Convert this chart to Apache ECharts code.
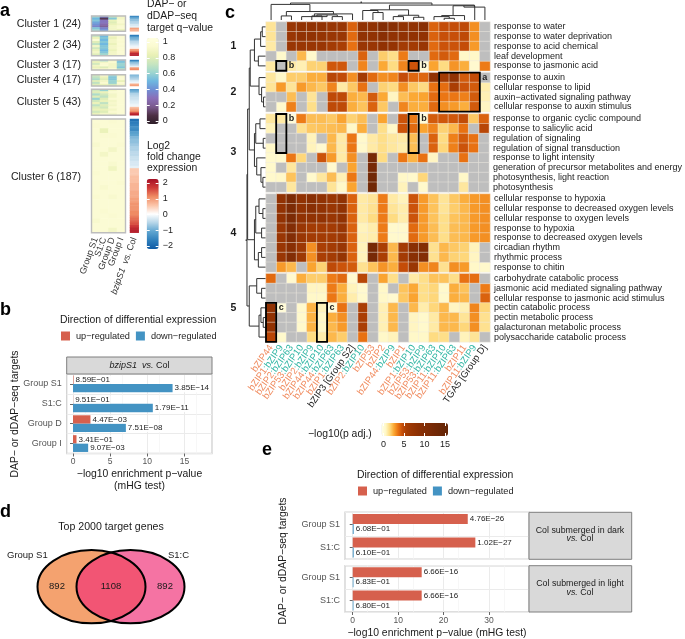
<!DOCTYPE html>
<html><head><meta charset="utf-8">
<style>html,body{margin:0;padding:0;background:#fff}#c{width:685px;height:639px}</style>
<script src="https://cdn.jsdelivr.net/npm/echarts@6/dist/echarts.min.js"></script>
</head><body><div id="c"></div>
<script>
// ---------- DATA ----------
const NA = -1;
// panel a: clusters
const clusterNames = ['Cluster 1 (24)','Cluster 2 (34)','Cluster 3 (17)','Cluster 4 (17)','Cluster 5 (43)','Cluster 6 (187)'];
const aColumns = ['Group S1','S1:C','Group D','Group I'];
const aSideColumn = ['bzipS1 vs. Col'];
const cluster1Q = [[.6,.35,.7,.9],[.5,.08,.55,.9],[.55,.3,.85,.95],[.45,.3,.8,.95],[.4,.25,.85,.9],[.35,.2,.9,.95],[.55,.35,.9,.95],[.6,.4,.9,.85]];
const cluster2Q = [[.7,.5,.9,.97],[.85,.55,.85,.95],[.97,.5,.9,.97],[.8,.55,.9,.95],[.7,.5,.85,.97],[.9,.55,.9,.95],[.75,.55,.9,.97],[.85,.5,.85,.95],[.9,.55,.9,.97],[.8,.62,.9,.95]];
const cluster3Q = [[.8,.6,.9,.5],[.85,.9,.95,.55],[.75,.95,.9,.6],[.9,.97,.9,.6],[.85,.8,.9,.55],[.9,.9,.95,.65]];
const cluster4Q = [[.75,.95,.6,.9],[.7,.85,.55,.95],[.65,.8,.55,.95],[.8,.9,.6,.85],[.7,.95,.6,.95],[.8,.85,.75,.9]];
const cluster5Q = [[.75,.6,.9,.97],[.8,.85,.95,.97],[.65,.75,.9,.97],[.8,.7,.9,.97],[.6,.8,.95,.97],[.75,.85,.9,.97],[.85,.7,.92,.97],[.7,.8,.9,.97],[.8,.75,.95,.97],[.85,.85,.9,.97],[.75,.8,.95,.97],[.85,.9,.9,.97]];
const cluster6Q = [[.97,.97,.95,.97],[.95,.97,.97,.97],[.97,.85,.97,.97],[.97,.95,.95,.97],[.97,.97,.97,.97],[.93,.97,.97,.95],[.97,.97,.9,.97],[.97,.9,.97,.97],[.97,.97,.97,.97],[.97,.97,.93,.97],[.97,.97,.88,.97],[.95,.97,.97,.97],[.97,.97,.97,.97],[.97,.97,.97,.95],[.97,.93,.97,.97],[.97,.97,.97,.97],[.95,.97,.93,.97],[.97,.97,.97,.97],[.97,.97,.97,.97],[.97,.95,.97,.97],[.97,.97,.95,.97],[.93,.97,.97,.97],[.97,.97,.97,.97],[.97,.97,.9,.97]];
const cluster1FC = [-1.5,-1,-.8,-.6,-.5,-.3,-.2,.9,.7];
const cluster2FC = [-1.7,-1.4,-1,-.9,-.7,-.5,-.4,-.3,-.2,-.1,.2,.9,1.1,1.5,1.9,2];
const cluster3FC = [-1.6,-1.1,-.8,-.6,-.4,-.2,.9,1.1];
const cluster4FC = [-.9,-.8,-.7,-.6,-.5,-.3,-.2,-.1,.7,.9];
const cluster5FC = [-1.3,-1,-.8,-.6,-.5,-.45,-.4,-.35,-.3,-.25,-.2,-.15,-.1,.6,.8,.9,1.1,1.7,2];
const cluster6FC = [-1.9,-1.7,-1.6,-1.4,-1.5,-1.2,-1.1,-.9,-.8,-.8,-.7,-.6,-.6,-.5,-.5,-.4,-.4,-.3,-.3,-.2,.5,.5,.5,.6,.6,.6,.7,.7,.7,.8,.8,.8,.9,.9,1,1,1,1.1,1.1,1.2,1.3,1.4,1.5,1.7,1.9,2];
// panel b
const bCategories = ['Group S1','S1:C','Group D','Group I'];
const bUp = [0.07,0.02,2.35,0.47];
const bDown = [13.41,10.75,7.12,2.04];
const bUpLabels = ['8.59E−01','9.51E−01','4.47E−03','3.41E−01'];
const bDownLabels = ['3.85E−14','1.79E−11','7.51E−08','9.07E−03'];
// panel c
const cColumns = ['bZIP44','bZIP1:bZIP9','bZIP2:bZIP63','bZIP53:bZIP10','bZIP2:bZIP9','bZIP44:bZIP10','bZIP44:bZIP63','bZIP1:bZIP63','bZIP3 [Group S2]','bZIP2:bZIP10','bZIP53','bZIP2','bZIP44:bZIP9','bZIP1','bZIP1:bZIP10','bZIP53:bZIP9','bZIP53:bZIP63','bZIP11:bZIP10','bZIP11:bZIP63','bZIP11','bZIP11:bZIP9','TGA5 [Group D]'];
const group1Terms = ['response to water','response to water deprivation','response to acid chemical','leaf development','response to jasmonic acid'];
const group2Terms = ['response to auxin','cellular response to lipid','auxin−activated signaling pathway','cellular response to auxin stimulus'];
const group3Terms = ['response to organic cyclic compound','response to salicylic acid','regulation of signaling','regulation of signal transduction','response to light intensity','generation of precursor metabolites and energy','photosynthesis, light reaction','photosynthesis'];
const group4Terms = ['cellular response to hypoxia','cellular response to decreased oxygen levels','cellular response to oxygen levels','response to hypoxia','response to decreased oxygen levels','circadian rhythm','rhythmic process','response to chitin'];
const group5Terms = ['carbohydrate catabolic process','jasmonic acid mediated signaling pathway','cellular response to jasmonic acid stimulus','pectin catabolic process','pectin metabolic process','galacturonan metabolic process','polysaccharide catabolic process'];
const group1Values = [
[1.2,NA,7,8,8,8,7,7,4,8,8,10,9,8,8,9,4,4.6,4.6,4.8,3,NA],
[1.2,NA,7,8,8,7.5,7,7,3.8,8,8,9,8,8,8,8,4,4.5,4.5,4.8,3,NA],
[1,NA,7,7,7,7,6,5.5,3.6,7,7,8,7.5,6,6,7,3.8,4.4,4.4,4.6,2.8,NA],
[NA,.4,NA,2.2,.4,NA,NA,NA,NA,4,NA,1.8,1.4,3.4,NA,NA,3.8,4.2,3.8,.5,.5,NA],
[1,NA,1,.8,1.7,1.7,4.3,4.3,NA,3.2,NA,2.5,1.5,3.2,4.4,.01,2.6,1.5,2.9,2.4,.3,3.4]];
const group2Values = [
[1.1,.5,1.8,1.8,2.4,2.4,5,4.7,3,6,3.8,3,3.2,4.6,3.9,3.9,8,6,8,4.2,4.6,NA],
[1.2,2.8,1.2,2.8,2.2,1.9,3.2,1,1.9,3.6,NA,1.7,1.5,3,1.9,1.5,3.6,3.7,5.5,4.4,4.2,.9],
[NA,NA,2.1,NA,1.2,NA,4.8,4.8,2.4,2.2,4.2,2.5,.6,2.1,2.5,2.6,3.8,3.5,3.5,3.3,4.2,.8],
[NA,.4,3.3,NA,1.4,NA,4.8,4.8,2.4,2,4,1.9,NA,3.2,2.4,2.4,3.8,3,2.8,2.4,4.2,.6]];
const group3Values = [
[1.1,1,.01,3.4,2.1,2.1,1.9,2.6,1.7,2.1,NA,2.6,NA,4.4,3.4,.01,4.2,4.3,4.3,4.7,1.9,4],
[.7,NA,NA,1.3,1.9,2,2.1,2.2,.5,2.4,NA,1.4,.5,4.4,3.8,2.6,3.2,1.7,2.2,3.6,NA,5],
[NA,NA,NA,NA,.7,NA,2.2,1,3.5,.4,1,1.4,1.1,1,2.1,NA,4,1.5,3.3,4.2,3.6,NA],
[.5,NA,NA,NA,.7,.3,2.2,1,3.5,.4,1,1.4,1.1,.9,2.1,NA,4,1.6,3.3,4.4,3.6,NA],
[.4,.4,3.5,1.6,NA,4.4,2.8,1,3,NA,12,1.5,NA,3.5,2.3,3.6,.6,NA,NA,3.6,NA,NA],
[.4,NA,1.1,NA,NA,NA,.3,NA,2.6,NA,12,NA,NA,NA,NA,NA,NA,NA,NA,NA,NA,NA],
[.4,.5,2,NA,.4,1.1,2.1,.8,3.5,NA,13,NA,NA,.5,.4,1.6,NA,NA,NA,.5,NA,NA],
[NA,NA,1.1,NA,NA,NA,1.2,.5,2.6,NA,13,NA,NA,.7,NA,.4,NA,NA,NA,1.1,NA,NA]];
const group4Values = [
[NA,8,11,8,9,8,7,8,4,1,1.2,3.4,1,.7,4.4,2.8,2,1.2,1.9,2.4,2.8,3],
[NA,8,11,8,9,8,7,8,4,1,1.3,3.4,1.2,.9,4.4,2.8,2,1.2,1.8,2.2,2.8,3],
[NA,8,11,8,8,8,7,8,4,1,1.5,3.4,1.5,.9,4.4,2.8,2,1.4,2,2.2,2.8,3],
[NA,7,10,7,6,6,6,7,4,.7,.9,3.4,.4,.4,3.8,2.8,2.1,1.4,2.1,2.2,2.8,3],
[NA,7,10,7,6,6,6,6.5,4,.8,.9,3.4,.4,.4,3.8,2.8,2.1,1.4,2.1,2.2,2.8,3],
[NA,7,9,6.5,3,5.5,6,7,4,.7,12,5.5,2.2,6,9,10,1.3,2.2,1.9,1.7,.7,NA],
[NA,7,10,6.5,3,5.5,6,7.5,4,.7,12,5.5,2.2,6,9,10,1.3,2.2,1.7,1.6,.6,NA],
[NA,2.8,2.2,NA,2.6,1.7,4.8,4.4,4.2,1.3,2,2.9,2.4,4.6,7,3,3.2,1.3,3,2.8,.5,.4]];
const group5Values = [
[3.8,NA,.3,2.4,1.8,1.8,3.4,3.8,.3,5,NA,2.6,1.4,NA,1,1.4,2,2,1.4,3.6,3.7,NA],
[NA,NA,NA,NA,.6,.6,3.4,2.4,.7,.3,NA,.5,NA,2,2.5,1.4,1.6,.4,2.4,2,NA,3.4],
[NA,NA,NA,NA,.5,.5,3.5,2.4,.9,.4,NA,.5,.3,1.9,2.6,1.4,1.6,.4,2.4,2.2,NA,4],
[8,.01,NA,.4,2.3,.7,.01,3.6,NA,5.5,NA,.8,2.2,NA,2.2,.9,1.6,2.2,.6,.8,3.2,1.6],
[8,NA,NA,.4,2.3,.5,2.4,3,NA,5.5,NA,.8,2.2,NA,.6,.4,1,2.2,2.2,1.2,3,1.3],
[8,NA,NA,.4,2.3,.5,2.2,2.8,NA,5.5,NA,.8,2.2,NA,.6,.4,1,2.2,2.2,1.6,3,1.3],
[5,.4,NA,NA,1.5,.9,2.2,1.8,NA,3.6,NA,.5,.7,NA,.5,.5,1.5,1.4,NA,.7,1.2,NA]];
// dendrograms: merges reference leaves (1..n) or earlier merges ('m'+index); last number = height
const topMerges = [[2,3,12],[5,6,12],[7,8,10],['m1','m2',15],[4,'m3',10],['m4',9,18],['m0','m5',25],[1,'m6',46],
 [11,12,22],[10,'m8',28],[13,14,10],[15,16,8],['m10','m11',14],['m9','m12',30],[18,19,5],[17,'m14',10],['m15',20,13],['m16',21,42],['m17',22,38],['m13','m18',44],['m7','m19',50]];
const leftMerges = [[1,2,10],['m0',3,15],[4,5,22],['m1','m2',34],
 [8,9,6],[7,'m4',12],[6,'m5',20],['m3','m6',47],
 [10,11,17],[12,13,7],['m8','m9',30],[16,17,8],[15,'m11',14],[14,'m12',27],['m10','m13',34],['m7','m14',50],
 [19,20,8],[18,'m16',20],[21,22,12],[23,24,12],['m19',25,22],['m17','m18',30],['m21','m20',34],['m15','m22',55],
 [27,28,12],[26,'m24',27],[30,31,7],[29,'m26',14],['m27',32,20],['m25','m28',50],['m23','m29',57]];
const boxes = [[2,2,5,5,'b'],[15,15,5,5,'b'],[18,21,6,9,'a'],[2,2,10,13,'b'],[15,15,10,13,'b'],[1,1,29,32,'c'],[6,6,29,32,'c']];
const clusterNums = ['1','2','3','4','5'];
// panel d
const vennSets = ['Group S1','S1:C'];
const vennCounts = [892,1108,892];
// panel e
const eCategories = ['Group S1','S1:C'];
const eDarkUp = [25.32,26.99], eDarkDown = [0.216,0.215];
const eLightUp = [15.18,15.18], eLightDown = [0.166,0.167];
const eDarkUpLabels = ['4.76E−26','1.02E−27'], eDarkDownLabels = ['6.08E−01','6.10E−01'];
const eLightUpLabels = ['6.66E−16','6.66E−16'], eLightDownLabels = ['6.83E−01','6.80E−01'];

// ---------- BUILD ----------
const FONT = '"Liberation Sans", Arial, sans-serif';
const RED = '#D6604D', BLUE = '#4393C3', UP = 'up−regulated', DOWN = 'down−regulated';
const grid = [], xAxis = [], yAxis = [], series = [], graphic = [];
function addGrid(r, x, y){ grid.push(Object.assign({containLabel:false},r)); const i = grid.length-1;
  xAxis.push(Object.assign({gridIndex:i},x)); yAxis.push(Object.assign({gridIndex:i},y)); return i; }
function T(x,y,text,o={}){ graphic.push({type:'text',x,y,rotation:o.rotation||0,z:20,silent:true,
  style:{text,textAlign:o.align||'left',textVerticalAlign:'middle',font:`${o.style||''} ${o.weight||'normal'} ${o.size||9}px ${FONT}`,fill:o.fill||'#1a1a1a',rich:o.rich,lineHeight:o.lineHeight}}); }
function R(x,y,w,h,fill,stroke,lw){ graphic.push({type:'rect',x,y,shape:{width:w,height:h},silent:true,z:15,style:{fill:fill||'none',stroke,lineWidth:lw||1}}); }
const idx = a => a.map((_,i)=>i);
function heat(g, matrix, keep){ const d=[]; matrix.forEach((row,r)=>row.forEach((v,c)=>{ if(keep(v)) d.push([c,r,v]); }));
  return {type:'heatmap',xAxisIndex:g,yAxisIndex:g,data:d,progressive:0,emphasis:{disabled:true}}; }
const all=()=>true;

// panel a heatmaps
const aTops = [16,35,60,74.7,89.3,119], aBottoms=[31.3,55.7,70,86,115.3,232.7];
const qMats = [cluster1Q,cluster2Q,cluster3Q,cluster4Q,cluster5Q,cluster6Q];
const fcVecs = [cluster1FC,cluster2FC,cluster3FC,cluster4FC,cluster5FC,cluster6FC];
const qSeries=[], fcSeries=[];
qMats.forEach((m,i)=>{
  const top=aTops[i],h=aBottoms[i]-aTops[i];
  const last=i===5;
  let g=addGrid({left:91.5,top,width:34,height:h},
    {type:'category',data:aColumns,axisLine:{show:false},axisTick:{show:false},axisLabel:{show:last,interval:0,rotate:70,fontSize:9,color:'#333',fontFamily:FONT,margin:5,hideOverlap:false}},
    {type:'category',data:idx(m),inverse:true,show:false});
  qSeries.push(series.length); series.push(heat(g,m,all));
  R(91.5,top,34,h,null,'#bdbdbd',1.4);
  g=addGrid({left:130,top,width:8.7,height:h},
    {type:'category',data:aSideColumn,axisLine:{show:false},axisTick:{show:false},axisLabel:{show:last,interval:0,rotate:70,fontSize:9,color:'#333',fontFamily:FONT,margin:5,hideOverlap:false,formatter:()=>'{i|bzipS1  vs.} {n|Col}',rich:{i:{fontStyle:'italic',fontSize:9,color:'#333',fontFamily:FONT},n:{fontSize:9,color:'#333',fontFamily:FONT}}}},
    {type:'category',data:idx(fcVecs[i]),inverse:true,show:false});
  fcSeries.push(series.length); series.push(heat(g,fcVecs[i].map(v=>[v]),all));
  T(81,top+h/2+(i===5?1:0),clusterNames[i],{align:'right',size:10.6,fill:'#222'});
});
T(147,4,'DAP− or',{size:10.4}); T(147,16,'dDAP−seq',{size:10.4}); T(147,28,'target q−value',{size:10.4});
T(147,146,'Log2',{size:10.4}); T(147,157,'fold change',{size:10.4}); T(147,168,'expression',{size:10.4});

function colorbarAxisGrid(r,min,max,interval,vertical,dash){
  const val={type:'value',min,max,interval,z:6,axisLine:{show:false},axisTick:{show:false},
    axisLabel:{show:true,fontSize:9,color:'#222',fontFamily:FONT,margin:4,showMinLabel:true,showMaxLabel:true,formatter:v=>String(v).replace('-','−')},
    splitLine:{show:true,lineStyle:{color:'#fff',width:1,type:dash}}};
  const cat={type:'category',show:false,data:['']};
  return vertical? addGrid(r,cat,Object.assign(val,{position:'right'})) : addGrid(r,Object.assign(val,{position:'bottom'}),cat);
}
colorbarAxisGrid({left:146.7,top:42,width:12,height:79},0,1,.2,true,[3,6]);
colorbarAxisGrid({left:146.7,top:183,width:12,height:63},-2,2,1,true,[3,6]);

// panel b
function barGrid(r,cats,up,down,upL,downL,xo,bw,showX){
  const g=addGrid(Object.assign({show:true,borderColor:'#d4d4d4',borderWidth:1.4,backgroundColor:'#fff'},r),
    Object.assign({type:'value',axisLine:{show:false},axisTick:{show:showX,length:3,lineStyle:{color:'#666'},customValues:xo.values},
      axisLabel:{show:showX,fontSize:8.5,color:'#555',fontFamily:FONT,margin:4,showMinLabel:true,showMaxLabel:true,customValues:xo.values},
      splitLine:{show:true,lineStyle:{color:'#ebebeb',width:1}},minorTick:{show:false,splitNumber:2},minorSplitLine:{show:true,lineStyle:{color:'#f3f3f3',width:.7}}},xo),
    {type:'category',data:cats,inverse:true,axisLine:{show:false},axisTick:{show:true,alignWithLabel:true,length:3,lineStyle:{color:'#666'}},
      axisLabel:{fontSize:9,color:'#555',fontFamily:FONT,margin:5,interval:0},splitLine:{show:true,lineStyle:{color:'#ebebeb'}}});
  const mk=(name,vals,col,labs)=>({type:'bar',name,xAxisIndex:g,yAxisIndex:g,data:vals,barWidth:bw,barGap:'0%',silent:true,
    itemStyle:{color:col},label:{show:true,position:'right',distance:1,fontSize:8,color:'#222',fontFamily:FONT,backgroundColor:'rgba(255,255,255,.9)',padding:[0,1],formatter:p=>labs[p.dataIndex]}});
  series.push(mk(UP,up,RED,upL),mk(DOWN,down,BLUE,downL));
}
barGrid({left:66.7,top:374,width:145.3,height:79.5},bCategories,bUp,bDown,bUpLabels,bDownLabels,{min:-0.85,max:18.72,interval:5,values:[0,5,10,15]},8.4,true);
R(66.7,357,145.3,17,'#d9d9d9','#7f7f7f',1);
T(139.5,365.5,'{i|bzipS1  vs.} {n|Col}',{align:'center',size:9,rich:{i:{fontStyle:'italic',fontSize:9,fontFamily:FONT,fill:'#1a1a1a'},n:{fontSize:9,fontFamily:FONT,fill:'#1a1a1a'}}});
T(60,320,'Direction of differential expression',{size:10.4});
T(15,414,'DAP− or dDAP−seq targets',{size:10.4,align:'center',rotation:Math.PI/2});
T(139.5,474.5,'−log10 enrichment p−value',{size:10.4,align:'center'});
T(139.5,486,'(mHG test)',{size:10.4,align:'center'});

// panel c heatmaps
const groupTerms=[group1Terms,group2Terms,group3Terms,group4Terms,group5Terms];
const groupVals=[group1Values,group2Values,group3Values,group4Values,group5Values];
const groupTops=[22,72.7,114,194,273.7];
const rowH=9.75, cLeft=266, cWidth=224;
const pSeries=[], naSeries=[];
const colFormatter=v=>{ if(v.includes('[')) return '{k|'+v+'}'; const p=v.split(':'); return p.length>1? '{o|'+p[0]+'}{t|:'+p[1]+'}':'{o|'+v+'}'; };
const colRich={o:{color:'#F08A5D',fontSize:9.5,fontFamily:FONT},t:{color:'#2FB5A3',fontSize:9.5,fontFamily:FONT},k:{color:'#222',fontSize:9.5,fontFamily:FONT}};
groupVals.forEach((m,i)=>{
  const last=i===4;
  const g=addGrid({left:cLeft,top:groupTops[i],width:cWidth,height:m.length*rowH},
    {type:'category',data:cColumns,axisLine:{show:false},axisTick:{show:false},
      axisLabel:{show:last,interval:0,rotate:55,margin:4,formatter:colFormatter,rich:colRich,hideOverlap:false}},
    {type:'category',data:groupTerms[i],inverse:true,position:'right',axisLine:{show:false},axisTick:{show:false},
      axisLabel:{interval:0,fontSize:9,color:'#222',fontFamily:FONT,margin:4}});
  const cell={borderColor:'rgba(240,235,225,.75)',borderWidth:.6};
  const s=heat(g,m,v=>v!==NA); s.itemStyle=cell;
  pSeries.push(series.length); series.push(s);
  const n=heat(g,m,v=>v===NA); n.itemStyle=cell;
  naSeries.push(series.length); series.push(n);
});
const rowCenters=[]; groupVals.forEach((m,i)=>m.forEach((_,r)=>rowCenters.push(groupTops[i]-22+(r+.5)*rowH)));
const rowTop=r=>rowCenters[r-1]-rowH/2;

// dendrogram link list from merge tables
function links(merges,pos){ const nodes=[],out=[]; const get=a=>typeof a==='string'?nodes[+a.slice(1)]:{p:pos(a),h:0};
  merges.forEach(([a,b,h])=>{const A=get(a),B=get(b); nodes.push({p:(A.p+B.p)/2,h}); out.push([A.p,A.h,B.p,B.h,h]);});
  const n=nodes[nodes.length-1]; out.push([n.p,n.h,n.p,n.h,n.h+4]); return out; }
const dendroLine={stroke:'#333',lineWidth:1,fill:null};
let g=addGrid({left:cLeft,top:1,width:cWidth,height:19},{type:'value',min:0,max:22,show:false},{type:'value',min:0,max:56,show:false});
series.push({type:'custom',xAxisIndex:g,yAxisIndex:g,silent:true,data:links(topMerges,k=>k-.5),clip:false,
  renderItem:(p,api)=>({type:'polyline',shape:{points:[api.coord([api.value(0),api.value(1)]),api.coord([api.value(0),api.value(4)]),api.coord([api.value(2),api.value(4)]),api.coord([api.value(2),api.value(3)])]},style:dendroLine})});
g=addGrid({left:246,top:22,width:19.5,height:320},{type:'value',min:0,max:60,inverse:true,show:false},{type:'value',min:0,max:320,inverse:true,show:false});
series.push({type:'custom',xAxisIndex:g,yAxisIndex:g,silent:true,data:links(leftMerges,k=>rowCenters[k-1]),clip:false,
  renderItem:(p,api)=>({type:'polyline',shape:{points:[api.coord([api.value(1),api.value(0)]),api.coord([api.value(4),api.value(0)]),api.coord([api.value(4),api.value(2)]),api.coord([api.value(3),api.value(2)])]},style:dendroLine})});
// highlight boxes
g=addGrid({left:cLeft,top:22,width:cWidth,height:320},{type:'value',min:0,max:22,show:false},{type:'value',min:0,max:320,inverse:true,show:false});
series.push({type:'custom',xAxisIndex:g,yAxisIndex:g,silent:true,z:5,clip:false,data:boxes.map(b=>[b[0]-1,b[1],rowTop(b[2]),rowTop(b[3])+rowH,b[4]]),
  renderItem:(p,api)=>{const a=api.coord([api.value(0),api.value(2)]),b=api.coord([api.value(1),api.value(3)]);
    return {type:'group',children:[{type:'rect',shape:{x:a[0],y:a[1],width:b[0]-a[0],height:b[1]-a[1]},style:{fill:null,stroke:'#000',lineWidth:1.8}},
      {type:'text',x:b[0]+2.5,y:a[1]+rowH/2,style:{text:api.value(4),font:`bold 9px ${FONT}`,fill:'#222',textVerticalAlign:'middle'}}]};},
  dimensions:['a','b','c','d',{name:'l',type:'ordinal'}]});
clusterNums.forEach((n,i)=>T(233.5,[46,92,152,233,308][i],n,{weight:'bold',size:10.5,align:'center'}));
colorbarAxisGrid({left:383.5,top:423,width:61.5,height:13},0,15,5,false,[3,7]);
T(308,434,'−log10(p adj.)',{size:10.4});

// panel d
g=addGrid({left:30,top:540,width:170,height:95},{type:'value',min:30,max:200,show:false},{type:'value',min:540,max:635,inverse:true,show:false});
const venn=[[91.5,586.7,54,36.6],[130.5,586.7,54,36.6]];
const ell=(api,fill,stroke)=>{const c=api.coord([api.value(0),api.value(1)]),s=api.size([api.value(2),api.value(3)]);return {type:'ellipse',shape:{cx:c[0],cy:c[1],rx:s[0],ry:s[1]},style:{fill,stroke,lineWidth:2}};};
series.push({type:'custom',xAxisIndex:g,yAxisIndex:g,silent:true,data:venn,clip:false,
  renderItem:(p,api)=>ell(api,p.dataIndex===0?'#F4A26F':'rgba(240,49,120,.68)',null)});
series.push({type:'custom',xAxisIndex:g,yAxisIndex:g,silent:true,data:venn,clip:false,renderItem:(p,api)=>ell(api,null,'#000')});
T(111,527,'Top 2000 target genes',{size:10.6,align:'center'});
T(7,555,vennSets[0],{size:9.5}); T(168,555,vennSets[1],{size:9.5});
[57,111,165].forEach((x,i)=>T(x,586.5,String(vennCounts[i]),{size:9.5,align:'center'}));

// panel e
const eX={min:-1.7,max:38.8,interval:10,values:[0,10,20,30]};
barGrid({left:345,top:512.3,width:184,height:47},eCategories,eDarkUp,eDarkDown,eDarkUpLabels,eDarkDownLabels,eX,10,false);
barGrid({left:345,top:565.7,width:184,height:46.3},eCategories,eLightUp,eLightDown,eLightUpLabels,eLightDownLabels,eX,10,true);
R(529,512.3,102.7,47,'#d9d9d9','#7f7f7f',1); R(529,565.7,102.7,46.3,'#d9d9d9','#7f7f7f',1);
const vsRich={i:{fontStyle:'italic',fontSize:8.8,fontFamily:FONT,fill:'#1a1a1a'},n:{fontSize:8.8,fontFamily:FONT,fill:'#1a1a1a'}};
T(580,530.5,'Col submerged in dark',{size:8.8,align:'center'}); T(580,539,'{i|vs.} {n|Col}',{size:8.8,align:'center',rich:vsRich});
T(580,584,'Col submerged in light',{size:8.8,align:'center'}); T(580,592.5,'{i|vs.} {n|Col}',{size:8.8,align:'center',rich:vsRich});
T(357,475,'Direction of differential expression',{size:10.4});
T(437,633,'−log10 enrichment p−value (mHG test)',{size:10.4,align:'center'});
T(283,561,'DAP− or dDAP−seq targets',{size:10.4,align:'center',rotation:Math.PI/2});

// panel letters
[['a',0,11],['b',0,310],['c',225,13],['d',0,512],['e',262,450]].forEach(([t,x,y])=>T(x,y,t,{size:18,weight:'bold',fill:'#000'}));

const legendItem=(left,top)=>({data:[UP,DOWN],left,top,padding:0,itemWidth:9,itemHeight:9,itemGap:6,icon:'rect',selectedMode:false,textStyle:{fontSize:9.2,color:'#222',fontFamily:FONT,padding:[0,0,0,1]}});
const qColors=['#2e1e28','#4d3045','#7a5a8e','#8a6fb8','#6f8fd4','#6fb8e0','#9ed6cf','#c8e5bf','#e8f0b5','#fafad0','#ffffe0'];
const fcColors=['#0f5ba5','#2f7fbc','#5fa5d0','#b5d5e8','#ffffff','#fbc4a8','#ef8a62','#cf3a38','#a50f25'];
const pColors=['#ffffe8','#fff8c8','#fedb80','#fba732','#ea7312','#c54d08','#a83d04','#9c3804','#943403','#8c3003','#852e05','#7f2c05','#792a06','#732806','#6d2706','#682606','#662506'];
const vm=(sIdx,min,max,colors,o)=>Object.assign({type:'continuous',seriesIndex:sIdx,min,max,calculable:false,show:true,padding:0,hoverLink:false,realtime:false,
  text:null,showLabel:false,inRange:{color:colors},z:4},o);

const chart=echarts.init(document.getElementById('c'),null,{renderer:'canvas'});
chart.setOption({animation:false,backgroundColor:'#fff',textStyle:{fontFamily:FONT},tooltip:{show:false},
  grid,xAxis,yAxis,series,graphic:{elements:graphic},
  legend:[legendItem(61,331.5),legendItem(358,486.5)],
  visualMap:[
    vm(qSeries,-.05,1.05,qColors,{left:146.7,top:38,itemWidth:12,itemHeight:86}),
    vm(fcSeries,-2.22,2.22,fcColors,{left:146.7,top:179,itemWidth:12,itemHeight:70}),
    vm(pSeries,-.5,15.7,pColors,{left:381.5,top:423,itemWidth:13,itemHeight:66.5,orient:'horizontal'}),
    vm(naSeries,-2,0,['#bebebe','#bebebe'],{show:false})
  ]});
</script></body></html>
